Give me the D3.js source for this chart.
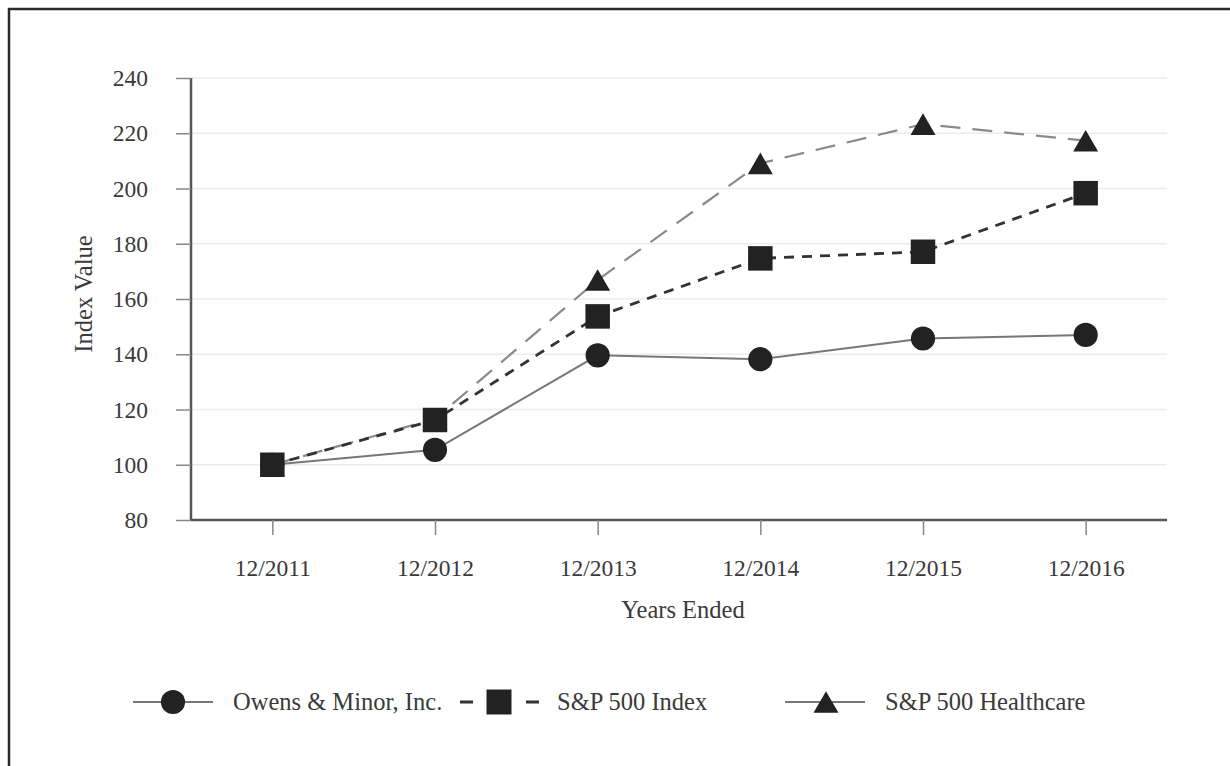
<!DOCTYPE html>
<html lang="en">
<head>
    <meta charset="UTF-8">
    <title>Cumulative Total Return</title>
    <style>
        body {
            margin: 0;
            padding: 0;
            background-color: #ffffff;
        }
        svg {
            display: block;
        }
    </style>
    <script src="https://d3js.org/d3.v7.min.js"></script>
</head>
<body>
    <script>
        const width = 1230;
        const height = 766;

        // data
        const years = ["12/2011", "12/2012", "12/2013", "12/2014", "12/2015", "12/2016"];
        const owensMinor = [100, 105.4, 139.6, 138.2, 145.7, 147.0];
        const sp500 = [100, 116.2, 153.7, 174.7, 177.1, 198.3];
        const sp500Health = [100, 116.6, 166.9, 209.1, 223.3, 217.3];
        const yTicks = [80, 100, 120, 140, 160, 180, 200, 220, 240];

        const font = "'Liberation Serif', 'Times New Roman', serif";
        const textColor = "#3a3a3a";

        const margin = {top: 78, right: 63, bottom: 246, left: 191};

        const svg = d3.select("body").append("svg")
            .attr("width", width)
            .attr("height", height);

        // outer frame
        svg.append("rect")
            .attr("x", 9)
            .attr("y", 9)
            .attr("width", 1260)
            .attr("height", 800)
            .attr("fill", "none")
            .attr("stroke", "#2a2a2a")
            .attr("stroke-width", 2.5);

        const x = d3.scalePoint()
            .domain(years)
            .range([margin.left, width - margin.right])
            .padding(0.5);

        const y = d3.scaleLinear()
            .domain([80, 240])
            .range([height - margin.bottom, margin.top]);

        // triangle centred on its bounding box, like the original markers
        const boxTriangle = {
            draw(context, size) {
                const s = Math.sqrt(size / (Math.sqrt(3) / 4));
                const h = s * Math.sqrt(3) / 2;
                context.moveTo(0, -h / 2);
                context.lineTo(s / 2, h / 2);
                context.lineTo(-s / 2, h / 2);
                context.closePath();
            }
        };

        // gridlines
        svg.append("g")
            .selectAll("line")
            .data(yTicks.filter(d => d > 80))
            .enter().append("line")
            .attr("x1", margin.left)
            .attr("x2", width - margin.right)
            .attr("y1", d => y(d))
            .attr("y2", d => y(d))
            .attr("stroke", "#ececec")
            .attr("stroke-width", 1.5);

        // axes
        const yAxis = svg.append("g")
            .attr("transform", `translate(${margin.left},0)`)
            .call(d3.axisLeft(y).tickValues(yTicks).tickSize(15).tickPadding(28).tickSizeOuter(0));

        const xAxis = svg.append("g")
            .attr("transform", `translate(0,${height - margin.bottom})`)
            .call(d3.axisBottom(x).tickSize(15).tickPadding(24).tickSizeOuter(0));

        [yAxis, xAxis].forEach(g => {
            g.select(".domain").attr("stroke", "#555").attr("stroke-width", 2.5);
            g.selectAll(".tick line").attr("stroke", "#888").attr("stroke-width", 1.5);
            g.selectAll(".tick text")
                .attr("font-family", font)
                .attr("font-size", 23.5)
                .attr("fill", textColor);
        });
        xAxis.select(".domain").attr("d", `M${margin.left},0H${width - margin.right}`);
        yAxis.select(".domain").attr("d", `M0,${margin.top}V${height - margin.bottom}`);

        // axis titles
        svg.append("text")
            .attr("x", 683)
            .attr("y", 618)
            .attr("text-anchor", "middle")
            .attr("font-family", font)
            .attr("font-size", 24.5)
            .attr("fill", textColor)
            .text("Years Ended");

        svg.append("text")
            .attr("transform", `translate(92,${(margin.top + height - margin.bottom) / 2 - 5}) rotate(-90)`)
            .attr("text-anchor", "middle")
            .attr("font-family", font)
            .attr("font-size", 24.5)
            .attr("fill", textColor)
            .text("Index Value");

        const series = [
            {name: "Owens & Minor, Inc.", values: owensMinor, stroke: "#777", width: 2, dash: null, symbol: d3.symbolCircle, size: 460},
            {name: "S&P 500 Healthcare", values: sp500Health, stroke: "#8a8a8a", width: 2.2, dash: "20,12", symbol: boxTriangle, size: 270},
            {name: "S&P 500 Index", values: sp500, stroke: "#333", width: 2.8, dash: "10,8", symbol: d3.symbolSquare, size: 600}
        ];

        const line = d3.line()
            .x((d, i) => x(years[i]))
            .y(d => y(d));

        series.forEach(s => {
            svg.append("path")
                .datum(s.values)
                .attr("d", line)
                .attr("fill", "none")
                .attr("stroke", s.stroke)
                .attr("stroke-width", s.width)
                .attr("stroke-dasharray", s.dash);
        });

        series.forEach(s => {
            svg.append("g")
                .selectAll("path")
                .data(s.values)
                .enter().append("path")
                .attr("transform", (d, i) => `translate(${x(years[i])},${y(d)})`)
                .attr("d", d3.symbol().type(s.symbol).size(s.size))
                .attr("fill", "#222");
        });

        // legend
        const legendY = 702;
        const legend = [
            {name: "Owens & Minor, Inc.", x0: 133, x1: 213, cx: 173, tx: 233, stroke: "#777", width: 2, dash: null, symbol: d3.symbolCircle, size: 460},
            {name: "S&P 500 Index", x0: 460, x1: 539, cx: 499, tx: 557, stroke: "#333", width: 2.8, dash: "13,53,13", symbol: d3.symbolSquare, size: 625},
            {name: "S&P 500 Healthcare", x0: 785, x1: 865, cx: 826, tx: 885, stroke: "#777", width: 2, dash: null, symbol: boxTriangle, size: 270}
        ];

        const lg = svg.append("g")
            .selectAll("g")
            .data(legend)
            .enter().append("g");

        lg.append("line")
            .attr("x1", d => d.x0)
            .attr("x2", d => d.x1)
            .attr("y1", legendY)
            .attr("y2", legendY)
            .attr("stroke", d => d.stroke)
            .attr("stroke-width", d => d.width)
            .attr("stroke-dasharray", d => d.dash);

        lg.append("path")
            .attr("transform", d => `translate(${d.cx},${legendY})`)
            .attr("d", d => d3.symbol().type(d.symbol).size(d.size)())
            .attr("fill", "#222");

        lg.append("text")
            .attr("x", d => d.tx)
            .attr("y", legendY + 8)
            .attr("font-family", font)
            .attr("font-size", 24.5)
            .attr("fill", textColor)
            .text(d => d.name);
    </script>
</body>
</html>
